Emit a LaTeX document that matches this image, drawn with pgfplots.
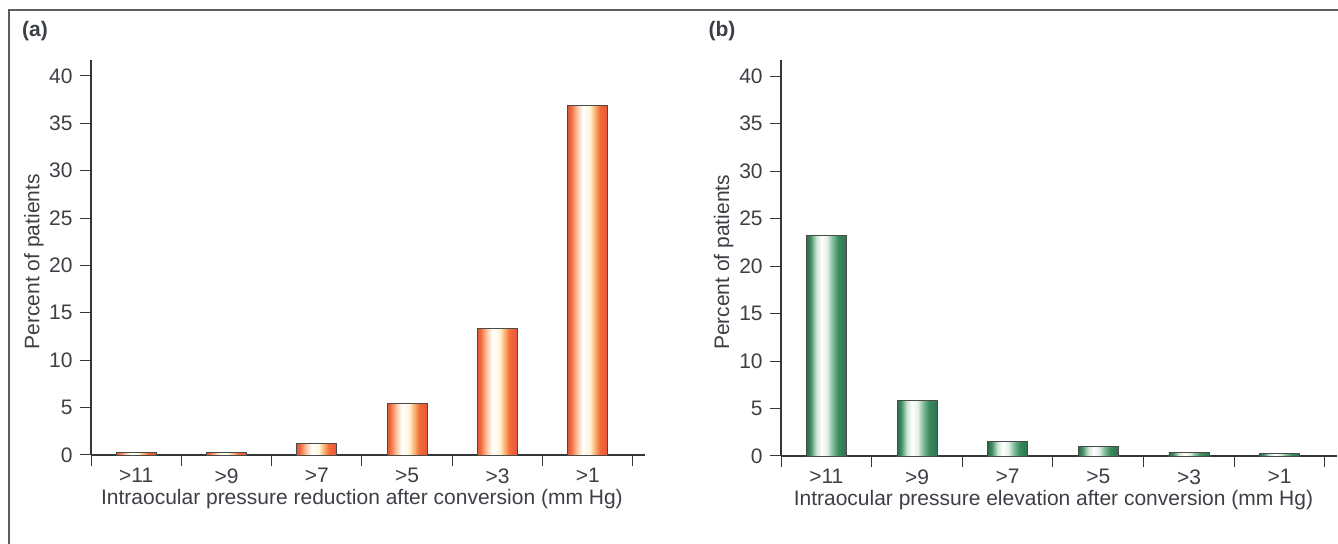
\documentclass[border=0pt]{standalone}
\usepackage{pgfplots}
\pgfplotsset{compat=1.18}
\usepackage{fontspec}
\setmainfont{Liberation Sans}
\definecolor{txt}{HTML}{3C4046}
\definecolor{axc}{HTML}{33373C}
\definecolor{framec}{HTML}{5A5E5E}
\definecolor{barline}{HTML}{4A4A4A}
% orange shading colours
\definecolor{oA}{HTML}{D85A3C}
\definecolor{oB}{HTML}{F36B3B}
\definecolor{oC}{HTML}{FBD0B0}
\definecolor{oD}{HTML}{FFF4D8}
\definecolor{oE}{HTML}{FCB070}
\definecolor{oF}{HTML}{F36A3A}
\definecolor{oG}{HTML}{E8553A}
% green shading colours
\definecolor{gA}{HTML}{2B6A48}
\definecolor{gB}{HTML}{3F8C62}
\definecolor{gC}{HTML}{CFE5D6}
\definecolor{gD}{HTML}{E2F0E6}
\definecolor{gE}{HTML}{7DB896}
\definecolor{gF}{HTML}{3A8A5C}
\definecolor{gG}{HTML}{2E7250}
\pgfdeclarehorizontalshading{orangebar}{100bp}{color(0bp)=(oA); color(25bp)=(oA); color(29bp)=(oB); color(37.5bp)=(oC); color(43.5bp)=(white); color(52.5bp)=(oD); color(59bp)=(oE); color(65bp)=(oF); color(75bp)=(oG); color(100bp)=(oG)}
\pgfdeclarehorizontalshading{greenbar}{100bp}{color(0bp)=(gA); color(25bp)=(gA); color(30bp)=(gB); color(37.5bp)=(gC); color(44bp)=(white); color(51bp)=(gD); color(58bp)=(gE); color(65bp)=(gF); color(75bp)=(gG); color(100bp)=(gG)}
\pgfplotsset{
  panel/.style={
    scale only axis,
    anchor=south west,
    width=277pt, height=197.5pt,
    xmin=-0.5, xmax=5.633,
    ymin=0, ymax=41.69,
    axis lines*=left,
    axis line style={draw=axc, line width=0.9pt},
    tick align=outside,
    major tick length=5.5pt,
    tick style={draw=axc, line width=0.5pt},
    xtick={-0.5,0.5,1.5,2.5,3.5,4.5,5.5},
    xticklabels={},
    extra x ticks={0,1,2,3,4,5},
    extra x tick labels={{>11},{>9},{>7},{>5},{>3},{>1}},
    extra x tick style={tick style={draw=none}, xticklabel style={yshift=2.5pt}},
    ytick={0,5,10,15,20,25,30,35,40},
    /pgf/number format/assume math mode=true,
    tick label style={text=txt},
    label style={text=txt},
    ylabel={Percent of patients},
    ylabel style={at={(axis description cs:-0.103,0.489)}, anchor=center},
    clip=false,
  },
  obar/.style={ybar, bar shift=0pt, bar width=20pt, draw=barline, line width=0.4pt, shade, shading=orangebar},
  gbar/.style={ybar, bar shift=0pt, bar width=20pt, draw=barline, line width=0.4pt, shade, shading=greenbar},
}
\begin{document}
\fontsize{10.5}{12.6}\selectfont
\begin{tikzpicture}
\useasboundingbox (0,0) rectangle (669pt,272pt);
% frame
\draw[framec, line width=1pt] (4pt,267pt) -- (669pt,267pt);
\draw[framec, line width=1pt] (4.5pt,267pt) -- (4.5pt,0pt);
\node[font=\bfseries\fontsize{10.5}{12.6}\selectfont, text=txt] at (17.5pt,256.5pt) {(a)};
\node[font=\bfseries\fontsize{10.5}{12.6}\selectfont, text=txt] at (361pt,256.5pt) {(b)};

\begin{axis}[panel, at={(45.5pt,44.5pt)},
  xlabel={Intraocular pressure reduction after conversion (mm Hg)},
  xlabel style={at={(axis description cs:0.489,-0.111)}, anchor=center}]
\addplot[obar] coordinates {(0,0.3)};
\addplot[obar] coordinates {(1,0.3)};
\addplot[obar] coordinates {(2,1.2)};
\addplot[obar] coordinates {(3,5.4)};
\addplot[obar] coordinates {(4,13.4)};
\addplot[obar] coordinates {(5,36.9)};
\end{axis}

\begin{axis}[panel, at={(390.5pt,44pt)}, width=278pt, height=198pt,
  xlabel={Intraocular pressure elevation after conversion (mm Hg)},
  xlabel style={at={(axis description cs:0.49,-0.111)}, anchor=center}]
\addplot[gbar] coordinates {(0,23.2)};
\addplot[gbar] coordinates {(1,5.8)};
\addplot[gbar] coordinates {(2,1.5)};
\addplot[gbar] coordinates {(3,1.0)};
\addplot[gbar] coordinates {(4,0.35)};
\addplot[gbar] coordinates {(5,0.3)};
\end{axis}
\end{tikzpicture}
\end{document}
